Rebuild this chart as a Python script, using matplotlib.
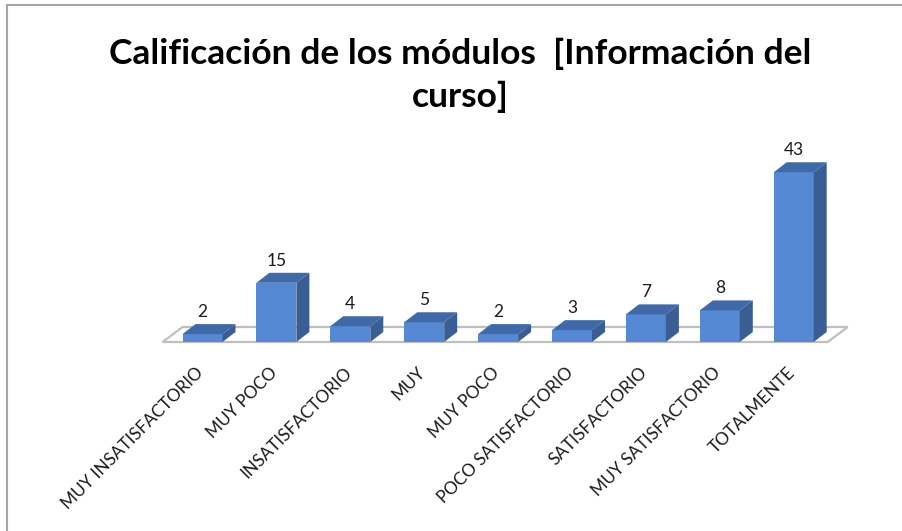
import matplotlib
matplotlib.use("Agg")
import matplotlib.pyplot as plt
from matplotlib.patches import Polygon
from matplotlib.lines import Line2D

categories = ["MUY INSATISFACTORIO", "MUY POCO", "INSATISFACTORIO", "MUY",
              "MUY POCO", "POCO SATISFACTORIO", "SATISFACTORIO",
              "MUY SATISFACTORIO", "TOTALMENTE"]
values = [2, 15, 4, 5, 2, 3, 7, 8, 43]
title = "Calificación de los módulos  [Información del\ncurso]"

FONT = ["Lato", "DejaVu Sans"]
W, H = 902, 531
fig = plt.figure(figsize=(W / 100, H / 100), dpi=100)

# axes placement in pixels
ppx = 73.9          # pixels per category
ppy = 3.947         # pixels per value unit
x0_pix = 202.5      # pixel x of first bar center
base_pix = 342      # pixel y (from top) of value 0
left_pix, right_pix, top_pix = 150, 860, 140
ax = fig.add_axes([left_pix / W, (H - base_pix) / H,
                   (right_pix - left_pix) / W, (base_pix - top_pix) / H])
ax.set_xlim((left_pix - x0_pix) / ppx, (right_pix - x0_pix) / ppx)
ax.set_ylim(0, (base_pix - top_pix) / ppy)
ax.axis("off")

front_c = "#5589D3"
top_c = "#4069A8"
side_c = "#3A5E94"

n = len(values)
bw = 40 / ppx
ddx, ddy = 13 / ppx, 10 / ppy          # bar depth
fdx, fdy = 20 / ppx, 15 / ppy          # floor depth

# floor
fl = -0.54
fr = n - 1 + 0.46
floor = Polygon([(fl, 0), (fr, 0), (fr + fdx, fdy), (fl + fdx, fdy)],
                closed=True, facecolor="white", edgecolor="#BFBFBF",
                linewidth=1.6, zorder=1, clip_on=False)
ax.add_patch(floor)

xs = list(range(n))
ax.bar(xs, values, width=bw, color=front_c, zorder=3, linewidth=0)
for x, v in zip(xs, values):
    l, r = x - bw / 2, x + bw / 2
    ax.add_patch(Polygon([(l, v), (r, v), (r + ddx, v + ddy), (l + ddx, v + ddy)],
                         closed=True, facecolor=top_c, edgecolor="none", zorder=3))
    ax.add_patch(Polygon([(r, 0), (r + ddx, ddy), (r + ddx, v + ddy), (r, v)],
                         closed=True, facecolor=side_c, edgecolor="none", zorder=3))
    ax.annotate(str(v), (x, v + ddy), xytext=(0, 3),
                textcoords="offset points", ha="center", va="bottom",
                fontsize=12.5, family=FONT, color="#1a1a1a", zorder=4)
    ax.annotate(categories[x], (x, 0), xytext=(-1, -20),
                textcoords="offset points", ha="right", va="center",
                rotation=45, rotation_mode="anchor", fontsize=12.3,
                family=FONT, color="#1a1a1a", annotation_clip=False)

fig.text(460 / W, 1 - 38 / H, title, ha="center", va="top", fontsize=25.5,
         fontweight="bold", family=FONT, linespacing=1.38)

# chart-area frame
fig.add_artist(Line2D([7 / W, 7 / W], [0, 1 - 5 / H], transform=fig.transFigure,
                      color="#A6A6A6", linewidth=1.5))
fig.add_artist(Line2D([7 / W, 1], [1 - 5 / H, 1 - 5 / H], transform=fig.transFigure,
                      color="#A6A6A6", linewidth=1.5))

fig.savefig("out.png", dpi=100, facecolor="white")
